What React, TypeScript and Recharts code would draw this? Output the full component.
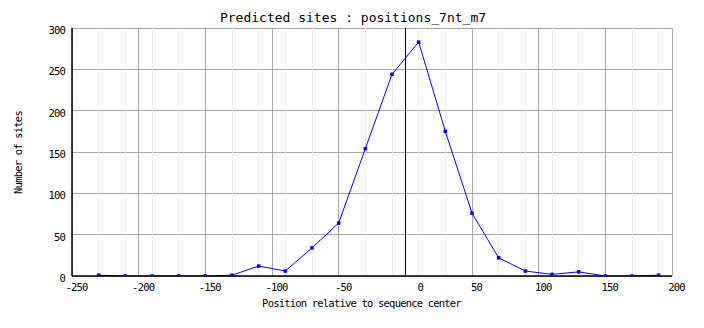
import React from 'react';
import { LineChart, Line, XAxis, YAxis, CartesianGrid, ReferenceLine, Label } from 'recharts';

const positions = [-230, -210, -190, -170, -150, -130, -110, -90, -70, -50, -30, -10, 10, 30, 50, 70, 90, 110, 130, 150, 170, 190];
const sites = [1, 0, 0, 0, 0, 1, 12, 6, 34, 64, 154, 244, 283, 175, 76, 22, 6, 2, 5, 0, 0, 1];
const xTicks = [-250, -200, -150, -100, -50, 0, 50, 100, 150, 200];
const yTicks = [0, 50, 100, 150, 200, 250, 300];
const title = 'Predicted sites : positions_7nt_m7';
const xLabel = 'Position relative to sequence center';
const yLabel = 'Number of sites';

const data = positions.map((p, i) => ({ pos: p, sites: sites[i] }));

const FONT = '"DejaVu Sans Mono", monospace';

const XTick = (props: any) => {
  const { x, y, payload } = props;
  const dx = payload.value === 0 ? 15 : 4.5;
  return (
    <text x={x + dx} y={y + 15} textAnchor="middle" fontFamily={FONT} fontSize={10.5} letterSpacing={-0.8} fill="#000">
      {payload.value}
    </text>
  );
};

const YTick = (props: any) => {
  const { x, y, payload } = props;
  return (
    <text x={x - 7} y={y + 6} textAnchor="end" fontFamily={FONT} fontSize={10.5} letterSpacing={-0.8} fill="#000">
      {payload.value}
    </text>
  );
};

const XLabel = (props: any) => {
  const vb = props.viewBox || { x: 72, y: 276, width: 600, height: 30 };
  return (
    <text x={vb.x + vb.width / 2 - 10.5} y={vb.y + 30.5} textAnchor="middle" fontFamily={FONT} fontSize={10.5} letterSpacing={-0.8} fill="#000">
      {xLabel}
    </text>
  );
};

const YLabel = (props: any) => {
  const vb = props.viewBox || { x: 0, y: 28, width: 72, height: 248 };
  const cx = 17.5;
  const cy = vb.y + vb.height / 2 + 0.5;
  return (
    <text x={cx} y={cy} textAnchor="middle" dominantBaseline="central" transform={`rotate(-90, ${cx}, ${cy})`} fontFamily={FONT} fontSize={10.5} letterSpacing={-0.8} fill="#000">
      {yLabel}
    </text>
  );
};

const Dot = (props: any) => {
  const { cx, cy } = props;
  if (cx == null || cy == null) return null;
  return <rect x={cx - 1.75} y={cy - 1.75} width={3.5} height={3.5} fill="#0000ff" />;
};

export default function App() {
  return (
    <div style={{ position: 'absolute', left: 0, top: 0, width: 704, height: 328, background: '#fff' }}>
      <div
        style={{
          position: 'absolute',
          left: 0,
          top: 11,
          width: 706,
          textAlign: 'center',
          fontFamily: FONT,
          fontSize: 13,
          lineHeight: '13px',
          color: '#000',
          whiteSpace: 'pre',
        }}
      >
        {title}
      </div>
      <LineChart width={704} height={328} data={data} margin={{ top: 28, right: 32, bottom: 22, left: 0 }}>
        <CartesianGrid vertical={false} stroke="#a6a6a6" shapeRendering="crispEdges" />
        {positions.map((p) => (
          <ReferenceLine key={'m' + p} x={p} stroke="#ececec" shapeRendering="crispEdges" />
        ))}
        {xTicks.map((t) => (
          <ReferenceLine key={'M' + t} x={t} stroke={t === 0 ? '#000' : '#a6a6a6'} shapeRendering="crispEdges" />
        ))}
        <XAxis
          dataKey="pos"
          type="number"
          domain={[-250, 200]}
          ticks={xTicks}
          interval={0}
          height={30}
          tickLine={false}
          tickSize={0}
          tickMargin={0}
          axisLine={{ stroke: '#000', strokeWidth: 1.5 }}
          tick={<XTick />}
          allowDataOverflow
        >
          <Label content={<XLabel />} />
        </XAxis>
        <YAxis
          type="number"
          domain={[0, 300]}
          ticks={yTicks}
          interval={0}
          width={72}
          tickLine={false}
          tickSize={0}
          tickMargin={0}
          axisLine={{ stroke: '#000', strokeWidth: 1.5 }}
          tick={<YTick />}
          allowDataOverflow
        >
          <Label content={<YLabel />} />
        </YAxis>
        <Line
          type="linear"
          dataKey="sites"
          stroke="#0000ff"
          strokeWidth={1}
          dot={<Dot />}
          activeDot={false}
          isAnimationActive={false}
        />
      </LineChart>
    </div>
  );
}
